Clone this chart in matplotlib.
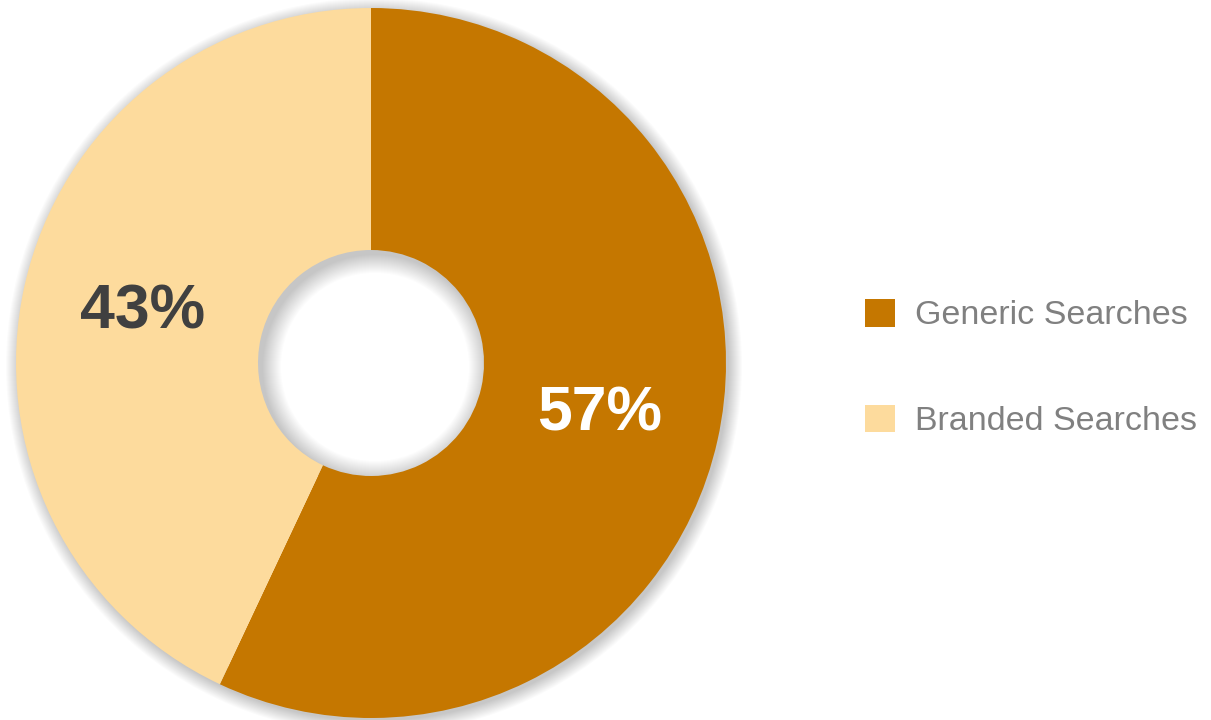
import matplotlib
matplotlib.use("Agg")
import matplotlib.pyplot as plt
from matplotlib.patches import Wedge

labels = ["Generic Searches", "Branded Searches"]
shares = [57, 43]
colors = ["#C57700", "#FDDB9D"]
pct_colors = ["white", "#404040"]

plt.rcParams['font.family'] = ['Liberation Sans', 'DejaVu Sans']

W, H = 1211, 720
fig = plt.figure(figsize=(W / 100, H / 100), dpi=100)
ax = fig.add_axes([0, 0, 1, 1])

cx, cy, R, r_in = 371, 357, 355, 113

# soft drop shadow outside the ring
for k in range(14):
    ax.add_patch(Wedge((cx + 3, cy - 3), R + k, 0, 360, width=k + 20,
                       color="black", alpha=0.017, lw=0, zorder=0))
# inner shadow in the hole
for k in range(1, 20):
    ax.add_patch(Wedge((cx + 4, cy - 4), r_in + 10, 0, 360, width=10 + k,
                       color="black", alpha=0.011, lw=0, zorder=1))

wedges, texts, autotexts = ax.pie(
    shares, colors=colors, startangle=90, counterclock=False,
    center=(cx, cy), radius=R, autopct=lambda p: "%d%%" % round(p),
    pctdistance=0.66, wedgeprops=dict(width=R - r_in, linewidth=0),
    textprops=dict(fontsize=45, fontweight="bold"))
for t, c in zip(autotexts, pct_colors):
    t.set_color(c)
for w in wedges:
    w.set_zorder(2)
for t in autotexts:
    t.set_zorder(3)

ax.set_xlim(0, W)
ax.set_ylim(0, H)
ax.set_aspect("equal")
ax.axis("off")

ax.legend(wedges, labels, loc="center left", bbox_to_anchor=(865 / W, (H - 368) / H),
          frameon=False, fontsize=24.5, labelcolor="#808080", borderpad=0, borderaxespad=0,
          handlelength=0.88, handleheight=0.88, handletextpad=0.59, labelspacing=2.15)

fig.savefig("out.png", dpi=100)
